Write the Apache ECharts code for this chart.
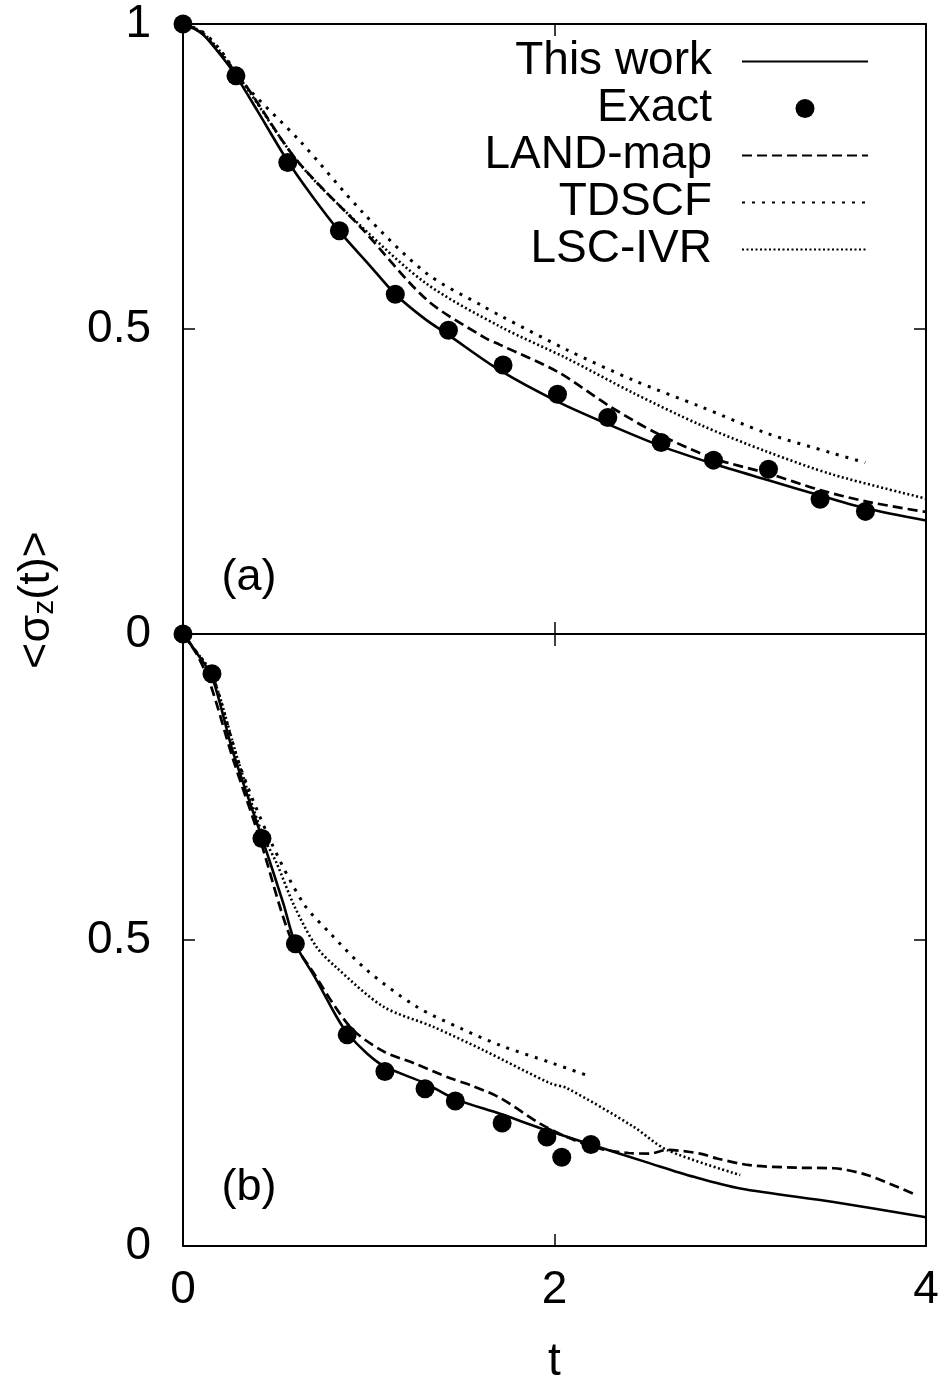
<!DOCTYPE html>
<html>
<head>
<meta charset="utf-8">
<script src="https://cdn.jsdelivr.net/npm/echarts@6/dist/echarts.min.js"></script>
<style>
html,body{margin:0;padding:0;background:#ffffff;}
#chart{width:948px;height:1387px;}
</style>
</head>
<body>
<div id="chart"></div>
<script>
const FONT = '"Liberation Sans", Arial, Helvetica, sans-serif';

const seriesNames = ['This work', 'Exact', 'LAND-map', 'TDSCF', 'LSC-IVR'];
const xTicks = [0, 2, 4];
const yTicks = [0, 0.5, 1];

// ---------- panel (a) ----------
const tA_exact = [0, 0.285, 0.564, 0.842, 1.143, 1.429, 1.723, 2.016, 2.287, 2.574, 2.856, 3.152, 3.430, 3.674];
const vA_exact = [1.0, 0.915, 0.773, 0.661, 0.557, 0.498, 0.441, 0.393, 0.355, 0.314, 0.285, 0.270, 0.221, 0.201];

const tA_this = [0, 0.1, 0.2, 0.285, 0.4, 0.564, 0.7, 0.842, 1.0, 1.143, 1.3, 1.43, 1.707, 2.016, 2.287, 2.574, 2.856, 3.152, 3.43, 3.674, 4.0];
const vA_this = [1.0, 0.985, 0.950, 0.915, 0.858, 0.775, 0.716, 0.660, 0.606, 0.557, 0.517, 0.490, 0.432, 0.381, 0.344, 0.308, 0.279, 0.252, 0.227, 0.206, 0.186];

const tA_land = [0, 0.1, 0.2, 0.343, 0.612, 0.971, 1.312, 1.617, 1.707, 2.016, 2.299, 2.551, 2.856, 3.152, 3.43, 3.682, 4.0];
const vA_land = [1.0, 0.985, 0.952, 0.897, 0.777, 0.662, 0.548, 0.487, 0.474, 0.430, 0.373, 0.329, 0.288, 0.263, 0.236, 0.217, 0.200];

const tA_tdscf = [0, 0.1, 0.2, 0.325, 0.630, 0.971, 1.312, 1.617, 1.707, 2.066, 2.425, 2.784, 3.143, 3.502, 3.673];
const vA_tdscf = [1.0, 0.988, 0.958, 0.903, 0.808, 0.690, 0.591, 0.537, 0.522, 0.466, 0.416, 0.373, 0.329, 0.296, 0.281];

const tA_lsc = [0, 0.1, 0.2, 0.343, 0.63, 0.971, 1.312, 1.707, 2.066, 2.425, 2.784, 3.143, 3.502, 4.0];
const vA_lsc = [1.0, 0.987, 0.955, 0.895, 0.770, 0.665, 0.574, 0.504, 0.452, 0.395, 0.343, 0.299, 0.261, 0.222];

// ---------- panel (b) ----------
const tB_exact = [0, 0.156, 0.425, 0.605, 0.884, 1.087, 1.303, 1.466, 1.718, 1.959, 2.039, 2.196];
const vB_exact = [1.0, 0.935, 0.666, 0.494, 0.345, 0.285, 0.257, 0.237, 0.201, 0.178, 0.145, 0.166];

const tB_this = [0, 0.074, 0.156, 0.27, 0.425, 0.54, 0.605, 0.718, 0.826, 0.884, 0.989, 1.087, 1.303, 1.466, 1.707, 1.959, 2.196, 2.515, 2.75, 3.0, 3.502, 4.0];
const vB_this = [1.0, 0.969, 0.930, 0.806, 0.667, 0.560, 0.494, 0.435, 0.375, 0.348, 0.315, 0.293, 0.266, 0.240, 0.216, 0.189, 0.166, 0.135, 0.113, 0.094, 0.072, 0.047];

const tB_land = [0, 0.074, 0.145, 0.27, 0.415, 0.576, 0.684, 0.9, 1.079, 1.241, 1.44, 1.547, 1.707, 1.922, 2.066, 2.246, 2.4, 2.515, 2.605, 2.784, 2.874, 3.053, 3.3, 3.502, 3.682, 3.951];
const vB_land = [1.0, 0.967, 0.920, 0.795, 0.664, 0.506, 0.455, 0.358, 0.318, 0.299, 0.274, 0.263, 0.242, 0.200, 0.178, 0.159, 0.152, 0.151, 0.157, 0.151, 0.143, 0.132, 0.128, 0.127, 0.116, 0.083];

const tB_tdscf = [0, 0.074, 0.156, 0.3, 0.468, 0.648, 0.792, 0.989, 1.258, 1.5, 1.707, 1.976, 2.174];
const vB_tdscf = [1.0, 0.970, 0.935, 0.790, 0.664, 0.560, 0.511, 0.451, 0.391, 0.355, 0.328, 0.300, 0.279];

const tB_lsc = [0, 0.074, 0.156, 0.3, 0.425, 0.505, 0.6, 0.718, 0.826, 1.079, 1.348, 1.617, 1.976, 2.066, 2.425, 2.605, 3.0];
const vB_lsc = [1.0, 0.970, 0.935, 0.790, 0.675, 0.625, 0.555, 0.489, 0.455, 0.391, 0.358, 0.320, 0.266, 0.258, 0.195, 0.157, 0.116];

function zip(t, v) { return t.map((x, i) => [x, v[i]]); }

const styles = {
  'This work': { type: 'solid', width: 2.6 },
  'LAND-map': { type: [10, 5], width: 2.7 },
  'TDSCF': { type: [3, 7], width: 3 },
  'LSC-IVR': { type: [2, 2.5], width: 2.6 }
};

function lineSeries(name, t, v, idx) {
  return {
    name: name, type: 'line', xAxisIndex: idx, yAxisIndex: idx,
    data: zip(t, v), showSymbol: false, symbol: 'none', smooth: 0.3,
    lineStyle: { color: '#000', width: styles[name].width, type: styles[name].type },
    itemStyle: { color: 'rgba(0,0,0,0)', opacity: 0 }, z: 2
  };
}
function dotSeries(t, v, idx) {
  return {
    name: 'Exact', type: 'scatter', xAxisIndex: idx, yAxisIndex: idx,
    data: zip(t, v), symbol: 'circle', symbolSize: 19,
    itemStyle: { color: '#000', opacity: 1 }, z: 5
  };
}

const axisLine = { show: true, onZero: false, lineStyle: { color: '#000', width: 2 } };
const axisTick = { show: true, inside: true, length: 12, lineStyle: { color: '#000', width: 1.5 } };
const labelStyle = { color: '#000', fontSize: 46, fontFamily: FONT };

function xAxis(gridIndex, position, labels) {
  return {
    type: 'value', gridIndex: gridIndex, position: position,
    min: xTicks[0], max: xTicks[xTicks.length - 1], interval: xTicks[1] - xTicks[0],
    axisLine: axisLine, axisTick: axisTick, splitLine: { show: false },
    axisLabel: Object.assign({ show: labels, margin: 21 }, labelStyle),
    name: labels ? 't' : '', nameLocation: 'middle', nameGap: 93,
    nameTextStyle: labelStyle
  };
}
function yAxis(gridIndex, position, labels, hideMax) {
  return {
    type: 'value', gridIndex: gridIndex, position: position,
    min: yTicks[0], max: yTicks[yTicks.length - 1], interval: yTicks[1] - yTicks[0],
    axisLine: axisLine, axisTick: axisTick, splitLine: { show: false },
    axisLabel: Object.assign({ show: labels, margin: 32,
      formatter: function (v) { return (hideMax && v === yTicks[yTicks.length - 1]) ? '' : String(v); } }, labelStyle)
  };
}

const legendData = seriesNames.map(function (n) {
  return n === 'Exact' ? { name: n } : { name: n, itemStyle: { opacity: 0 } };
});

const option = {
  animation: false,
  backgroundColor: '#fff',
  grid: [
    { left: 183, top: 24, width: 743, height: 610, outerBoundsMode: 'none' },
    { left: 183, top: 634, width: 743, height: 612, outerBoundsMode: 'none' }
  ],
  xAxis: [xAxis(0, 'bottom', false), xAxis(1, 'bottom', true), xAxis(0, 'top', false), xAxis(1, 'top', false)],
  yAxis: [yAxis(0, 'left', true, false), yAxis(1, 'left', true, true), yAxis(0, 'right', false, false), yAxis(1, 'right', false, false)],
  legend: {
    data: legendData, orient: 'vertical', align: 'right',
    right: 79, top: 38, padding: 0, itemGap: 0,
    itemWidth: 126, itemHeight: 19,
    selectedMode: false,
    textStyle: { color: '#000', fontSize: 46, fontFamily: FONT, lineHeight: 47, padding: [0, 25, 0, 0] }
  },
  graphic: [
    { type: 'text', x: 37, y: 600, rotation: Math.PI / 2,
      style: { text: '<σ{sub|z}(t)>', fontSize: 45, fontFamily: FONT, fill: '#000', lineHeight: 45,
        align: 'center', verticalAlign: 'middle',
        rich: { sub: { fontSize: 30, fontFamily: FONT, fill: '#000', lineHeight: 8, verticalAlign: 'bottom' } } } },
    { type: 'text', x: 249, y: 578, style: { text: '(a)', fontSize: 45, fontFamily: FONT, fill: '#000', align: 'center', verticalAlign: 'middle' } },
    { type: 'text', x: 249, y: 1188, style: { text: '(b)', fontSize: 45, fontFamily: FONT, fill: '#000', align: 'center', verticalAlign: 'middle' } }
  ],
  series: [
    lineSeries('This work', tA_this, vA_this, 0),
    lineSeries('LAND-map', tA_land, vA_land, 0),
    lineSeries('TDSCF', tA_tdscf, vA_tdscf, 0),
    lineSeries('LSC-IVR', tA_lsc, vA_lsc, 0),
    dotSeries(tA_exact, vA_exact, 0),
    lineSeries('This work', tB_this, vB_this, 1),
    lineSeries('LAND-map', tB_land, vB_land, 1),
    lineSeries('TDSCF', tB_tdscf, vB_tdscf, 1),
    lineSeries('LSC-IVR', tB_lsc, vB_lsc, 1),
    dotSeries(tB_exact, vB_exact, 1)
  ]
};

const chart = echarts.init(document.getElementById('chart'), null, { renderer: 'canvas' });
chart.setOption(option);
</script>
</body>
</html>
